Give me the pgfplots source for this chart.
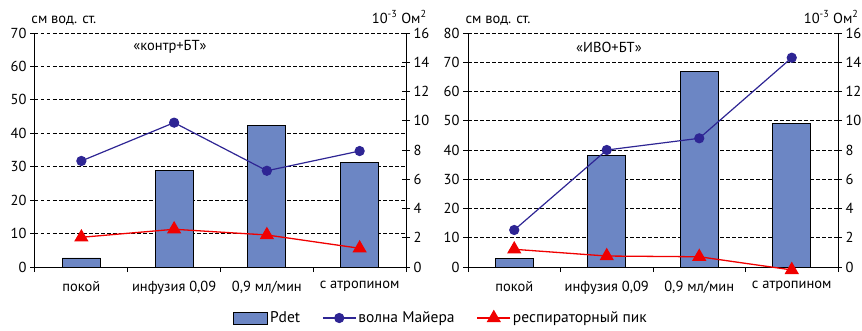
\documentclass[border=0pt]{standalone}
\usepackage{fontspec}
\setmainfont{PT Sans}
\usepackage{pgfplots}
\pgfplotsset{compat=1.18}
\definecolor{barblue}{HTML}{6C86C4}
\definecolor{mayer}{HTML}{2E2594}
\definecolor{resp}{HTML}{F00000}
\newcommand{\fs}{\fontsize{14.5}{17}\selectfont}
\newcommand{\fl}{\fontsize{15.5}{18}\selectfont}
\pgfplotsset{
  base/.style={scale only axis, width=371pt, height=234pt, xmin=-0.5, xmax=3.5,
    clip=false, ticklabel style={font=\fs, text=black},
    /pgf/number format/assume math mode=true},
  barax/.style={base, ymin=0, axis x line*=bottom, axis y line*=left,
    axis line style={black, line width=1pt, -},
    xtick={-0.5,0.5,1.5,2.5,3.5},
    xticklabels={покой,{инфузия 0,09},{0,9 мл/мин},с атропином},
    x tick label as interval,
    xticklabel style={yshift=-6pt},
    tick align=outside, major tick length=5pt,
    tick style={black, line width=1pt},
    ymajorgrids, grid style={dash pattern=on 3.5pt off 2.5pt, black, line width=1pt}},
  lineax/.style={base, ymin=0, ymax=16, ytick={0,2,...,16},
    axis x line=none, axis y line*=right,
    axis line style={black, line width=1pt, -},
    tick align=center, major tick length=8pt,
    tick style={black, line width=1pt}},
  barplot/.style={ybar, bar width=38pt, fill=barblue, draw=black, line width=0.9pt,
    legend image code/.code={\draw[##1] (0pt,-6pt) rectangle (34pt,6pt);}},
  mayerplot/.style={mayer, line width=1.2pt, mark=*, mark size=4.5pt,
    mark options={fill=mayer, draw=mayer},
    legend image code/.code={\draw[##1, mark repeat=2, mark phase=2] plot coordinates {(0pt,0pt)(16.5pt,0pt)(33pt,0pt)};}},
  respplot/.style={resp, line width=1.3pt, mark=triangle*, mark size=7pt,
    mark options={fill=resp, draw=resp},
    legend image code/.code={\draw[##1, mark repeat=2, mark phase=2] plot coordinates {(0pt,0pt)(16.5pt,0pt)(33pt,0pt)};}},
}
\begin{document}
\begin{tikzpicture}
\path[use as bounding box] (0,0) rectangle (862pt,330pt);
% ---------- left chart ----------
\begin{axis}[barax, at={(35pt,63pt)}, anchor=south west,
  ymax=70, ytick={0,10,...,70},
  legend columns=3,
  legend style={at={(1.0943,-0.218)}, anchor=center, draw=none, fill=none,
    font=\fl, /tikz/every even column/.append style={column sep=20pt}}]
\addplot[barplot] coordinates {(0,2.7) (1,28.8) (2,42.3) (3,31.2)};
\addlegendentry{Pdet}
\addlegendimage{mayerplot}
\addlegendentry{волна Майера}
\addlegendimage{respplot}
\addlegendentry{респираторный пик}
\node[anchor=base west, font=\fs] at (axis description cs:-0.019,1.0427) {см вод. ст.};
\node[anchor=base east, font=\fs] at (axis description cs:1.065,1.0427) {10\textsuperscript{-3} Ом\textsuperscript{2}};
\node[anchor=center, font=\fs] at (axis description cs:0.364,0.940) {«контр+БТ»};
\end{axis}
\begin{axis}[lineax, at={(35pt,63pt)}, anchor=south west]
\addplot[mayerplot] coordinates {(0,7.25) (1,9.87) (2,6.58) (3,7.93)};
\addplot[respplot] coordinates {(0,2.03) (1,2.58) (2,2.19) (3,1.28)};
\end{axis}
% ---------- right chart ----------
\begin{axis}[barax, width=370pt, at={(468pt,63pt)}, anchor=south west,
  ymax=80, ytick={0,10,...,80}]
\addplot[barplot] coordinates {(0,3.0) (1,38.1) (2,67.0) (3,49.2)};
\node[anchor=base west, font=\fs] at (axis description cs:-0.016,1.0427) {см вод. ст.};
\node[anchor=base east, font=\fs] at (axis description cs:1.065,1.0427) {10\textsuperscript{-3} Ом\textsuperscript{2}};
\node[anchor=center, font=\fs] at (axis description cs:0.381,0.940) {«ИВО+БТ»};
\end{axis}
\begin{axis}[lineax, width=370pt, at={(468pt,63pt)}, anchor=south west]
\addplot[mayerplot] coordinates {(0,2.53) (1,8.0) (2,8.8) (3,14.31)};
\addplot[respplot] coordinates {(0,1.21) (1,0.75) (2,0.70) (3,-0.2)};
\end{axis}
\end{tikzpicture}
\end{document}
